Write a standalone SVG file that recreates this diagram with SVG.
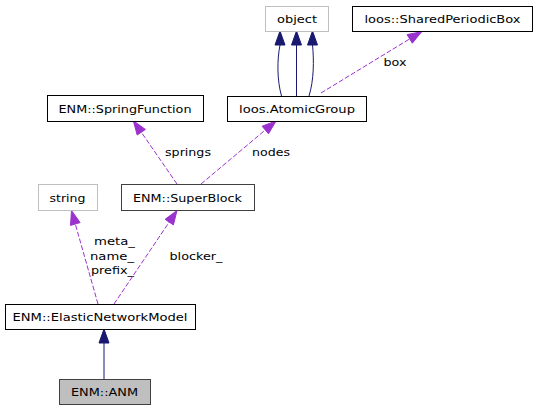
<svg xmlns="http://www.w3.org/2000/svg" width="537" height="411" viewBox="0 0 537 411">
<style>
text{font-family:"DejaVu Sans","Liberation Sans",sans-serif;font-size:11px;fill:#000}
.n rect{fill:#fff;stroke:#000;stroke-width:1}
.n.g rect{stroke:#bfbfbf}
.n.d rect{stroke:#404040}
.n.cur rect{fill:#bfbfbf;stroke:#404040}
.n text{text-anchor:middle}
.inh{stroke:#191970;fill:none;stroke-width:1}
.inhA{fill:#191970;stroke:#191970}
.use{stroke:#9a32cd;fill:none;stroke-width:1;stroke-dasharray:5,2}
.useA{fill:#9a32cd;stroke:#9a32cd}
.lbl{text-anchor:middle}
</style>
<rect width="537" height="411" fill="#fff"/>
<g id="connectors">
<line class="inh" x1="104" y1="379" x2="104" y2="343"/>
<polygon class="inhA" points="104,329 99,343 109,343"/>
<path class="inh" d="M281.5,96 C277,80 277,60 280,45"/>
<polygon class="inhA" points="280,31 275,45 285,45"/>
<line class="inh" x1="296.5" y1="96" x2="296.5" y2="45"/>
<polygon class="inhA" points="296.5,31 291.5,45 301.5,45"/>
<path class="inh" d="M309,96 C314,80 314,60 312.5,45"/>
<polygon class="inhA" points="312.5,31 307.5,45 317.5,45"/>
<line class="use" x1="321" y1="93" x2="409.7" y2="38.9"/>
<polygon class="useA" points="421.7,31.7 412.3,43.2 407.1,34.6"/>
<text class="lbl" x="395" y="66" textLength="23" lengthAdjust="spacingAndGlyphs">box</text>
<line class="use" x1="177" y1="184" x2="141.3" y2="132.2"/>
<polygon class="useA" points="133.3,120.7 145.4,129.4 137.2,135"/>
<text class="lbl" x="188" y="156" textLength="46" lengthAdjust="spacingAndGlyphs">springs</text>
<line class="use" x1="201" y1="184" x2="265.3" y2="130"/>
<polygon class="useA" points="276,121 268.5,133.8 262.1,126.2"/>
<text class="lbl" x="271" y="156" textLength="38" lengthAdjust="spacingAndGlyphs">nodes</text>
<line class="use" x1="98" y1="304" x2="75.3" y2="224"/>
<polygon class="useA" points="71.5,210.5 80.1,222.6 70.5,225.4"/>
<text class="lbl" x="114.5" y="245" textLength="41" lengthAdjust="spacingAndGlyphs">meta_</text>
<text class="lbl" x="112" y="259.5" textLength="44" lengthAdjust="spacingAndGlyphs">name_</text>
<text class="lbl" x="112.5" y="274" textLength="43" lengthAdjust="spacingAndGlyphs">prefix_</text>
<line class="use" x1="114" y1="304" x2="169.2" y2="222.1"/>
<polygon class="useA" points="177,210.5 173.4,224.9 165.1,219.3"/>
<text class="lbl" x="196" y="259.5" textLength="53" lengthAdjust="spacingAndGlyphs">blocker_</text>
</g>
<g id="node-object" class="n g">
<rect x="265.5" y="6.5" width="63" height="25"/>
<text x="297" y="23" textLength="40" lengthAdjust="spacingAndGlyphs">object</text>
</g>
<g id="node-SharedPeriodicBox" class="n">
<rect x="352.5" y="6.5" width="180" height="25"/>
<text x="442.5" y="23" textLength="156" lengthAdjust="spacingAndGlyphs">loos::SharedPeriodicBox</text>
</g>
<g id="node-AtomicGroup" class="n">
<rect x="227.5" y="96.5" width="139" height="25"/>
<text x="297" y="113" textLength="116" lengthAdjust="spacingAndGlyphs">loos.AtomicGroup</text>
</g>
<g id="node-SpringFunction" class="n">
<rect x="47.5" y="95.5" width="156" height="26"/>
<text x="125" y="113" textLength="133" lengthAdjust="spacingAndGlyphs">ENM::SpringFunction</text>
</g>
<g id="node-string" class="n g">
<rect x="38.5" y="184.5" width="59" height="26"/>
<text x="67.5" y="201.5" textLength="36" lengthAdjust="spacingAndGlyphs">string</text>
</g>
<g id="node-SuperBlock" class="n d">
<rect x="121.5" y="184.5" width="133" height="26"/>
<text x="187.5" y="201.5" textLength="109" lengthAdjust="spacingAndGlyphs">ENM::SuperBlock</text>
</g>
<g id="node-ElasticNetworkModel" class="n">
<rect x="5.5" y="304.5" width="190" height="25"/>
<text x="100" y="321" textLength="175" lengthAdjust="spacingAndGlyphs">ENM::ElasticNetworkModel</text>
</g>
<g id="node-ANM" class="n cur">
<rect x="59.5" y="379.5" width="91" height="25"/>
<text x="104.5" y="396" textLength="67" lengthAdjust="spacingAndGlyphs">ENM::ANM</text>
</g>
</svg>
